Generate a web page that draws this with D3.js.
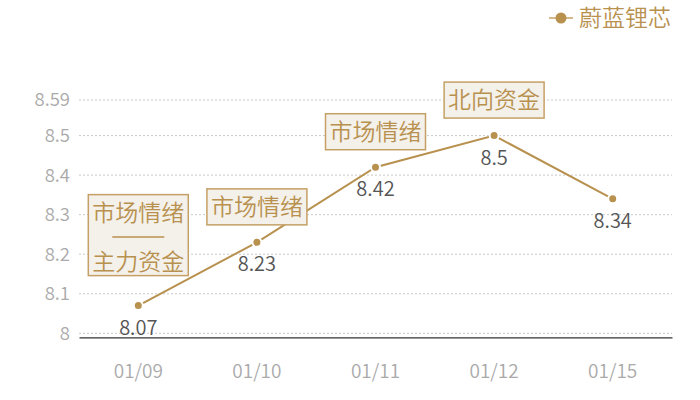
<!DOCTYPE html>
<html>
<head>
<meta charset="utf-8">
<script src="https://cdn.jsdelivr.net/npm/d3@7"></script>
<style>
  body { margin: 0; background: #fff; }
  text { font-family: "Noto Sans CJK SC", "Noto Sans", sans-serif; font-weight: 350; }
</style>
</head>
<body>
<div id="chart"></div>
<script>
var dates = ["01/09", "01/10", "01/11", "01/12", "01/15"]
var prices = [8.07, 8.23, 8.42, 8.5, 8.34]
var yTicks = [8, 8.1, 8.2, 8.3, 8.4, 8.5, 8.59]
var seriesName = "蔚蓝锂芯"
// annotation lines per point (empty = no box)
var notes = [["市场情绪", "主力资金"], ["市场情绪"], ["市场情绪"], ["北向资金"], []]

var gold = "#b8914f"
var W = 700, H = 400
var margin = { left: 79, right: 28, top: 100, bottom: 66 }

var svg = d3.select("#chart").append("svg")
    .attr("width", W)
    .attr("height", H)

var x = d3.scaleBand()
    .domain(dates)
    .range([margin.left, W - margin.right])

var y = d3.scaleLinear()
    .domain([8, 8.59])
    .range([H - margin.bottom - 0.7, margin.top])

// grid lines
svg.append("g").selectAll("line")
    .data(yTicks)
    .enter().append("line")
    .attr("x1", margin.left)
    .attr("x2", W - margin.right)
    .attr("y1", d => y(d))
    .attr("y2", d => y(d))
    .attr("stroke", "#c8c8c8")
    .attr("stroke-dasharray", "2,2")

// y axis labels
var yAxis = svg.append("g")
    .attr("transform", "translate(" + margin.left + ",0)")
    .call(d3.axisLeft(y).tickValues(yTicks).tickFormat(d => d3.format("")(d)).tickSize(0).tickPadding(9))
yAxis.select(".domain").remove()
yAxis.selectAll("text").attr("fill", "#aaa").style("font-size", "18.5px")

// x axis
var xAxis = svg.append("g")
    .attr("transform", "translate(0," + (y(8) + 4) + ")")
    .call(d3.axisBottom(x).tickSize(0).tickPadding(27))
xAxis.select(".domain").attr("stroke", "#333").attr("stroke-width", 1.3)
xAxis.selectAll("text").attr("fill", "#aaa").style("font-size", "19px")

var cx = d => x(d) + x.bandwidth() / 2

// line
var line = d3.line()
    .x((d, i) => cx(dates[i]))
    .y(d => y(d))

svg.append("path")
    .datum(prices)
    .attr("d", line)
    .attr("fill", "none")
    .attr("stroke", gold)
    .attr("stroke-width", 2)

// points
svg.append("g").selectAll("circle")
    .data(prices)
    .enter().append("circle")
    .attr("cx", (d, i) => cx(dates[i]))
    .attr("cy", d => y(d))
    .attr("r", 4.5)
    .attr("fill", gold)
    .attr("stroke", "#fff")
    .attr("stroke-width", 2)

// value labels
svg.append("g").selectAll("text")
    .data(prices)
    .enter().append("text")
    .attr("x", (d, i) => cx(dates[i]))
    .attr("y", d => y(d) + 29)
    .attr("text-anchor", "middle")
    .attr("fill", "#555")
    .style("font-size", "20px")
    .text(d => d)

// annotation boxes
var boxW = 100, lineH = 36
notes.forEach(function (lines, i) {
    if (!lines.length) return
    var px = cx(dates[i]), py = y(prices[i])
    var h = lines.length == 1 ? lineH : 81
    var gap = lines.length == 1 ? 17.5 : 30
    var top = py - gap - h
    var g = svg.append("g")
    g.append("rect")
        .attr("x", px - boxW / 2)
        .attr("y", top)
        .attr("width", boxW)
        .attr("height", h)
        .attr("fill", "#f4f0ea")
        .attr("stroke", "#c5a066")
        .attr("stroke-width", 1.5)
    if (lines.length == 1) {
        g.append("text")
            .attr("x", px)
            .attr("y", top + h / 2)
            .attr("dy", "0.36em")
            .attr("text-anchor", "middle")
            .attr("fill", gold)
            .style("font-size", "23px")
            .text(lines[0])
    } else {
        g.append("text")
            .attr("x", px).attr("y", top + 18).attr("dy", "0.36em")
            .attr("text-anchor", "middle").attr("fill", gold)
            .style("font-size", "23px").text(lines[0])
        g.append("line")
            .attr("x1", px - 26).attr("x2", px + 26)
            .attr("y1", top + 42.5).attr("y2", top + 42.5)
            .attr("stroke", gold).attr("stroke-width", 1.5)
        g.append("text")
            .attr("x", px).attr("y", top + 67).attr("dy", "0.36em")
            .attr("text-anchor", "middle").attr("fill", gold)
            .style("font-size", "23px").text(lines[1])
    }
})

// legend
var lg = svg.append("g").attr("transform", "translate(549,18)")
lg.append("line")
    .attr("x1", 0).attr("x2", 24)
    .attr("stroke", "#d4b98c").attr("stroke-width", 2)
lg.append("circle")
    .attr("cx", 12).attr("r", 5.5)
    .attr("fill", gold)
lg.append("text")
    .attr("x", 30).attr("dy", "0.36em")
    .attr("fill", gold)
    .style("font-size", "23px")
    .text(seriesName)
</script>
</body>
</html>
